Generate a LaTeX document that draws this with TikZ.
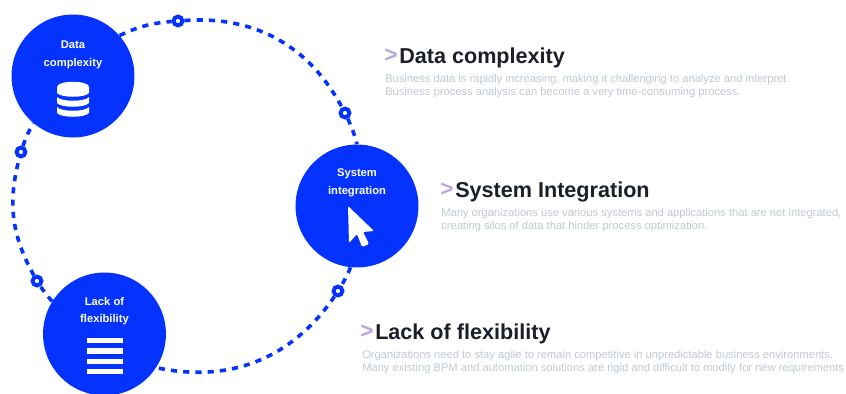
\documentclass[tikz,border=0pt]{standalone}
\usepackage{fontspec}
\usepackage{xcolor}
\setmainfont{Liberation Sans}
\definecolor{hubblue}{HTML}{0433FF}
\definecolor{headink}{HTML}{1B1F2B}
\definecolor{bodygrey}{HTML}{BFC8D7}
\definecolor{chevron}{HTML}{B9A6E0}
\tikzset{
  hub/.style={circle,fill=hubblue,minimum size=92.2pt,inner sep=0pt},
  stop/.style={circle,draw=hubblue,fill=white,line width=3pt,minimum size=6.6pt,inner sep=0pt},
  ring/.style={draw=hubblue,line width=2.7pt,dash pattern=on 4.6pt off 4.6pt},
  hubtext/.style={text=white,font=\fontsize{8.4pt}{13.1pt}\selectfont\bfseries,align=center},
  head/.style={anchor=west,inner sep=0pt,text=headink,font=\fontsize{16.2pt}{18pt}\selectfont\bfseries},
  body/.style={anchor=north west,inner sep=0pt,text=bodygrey,align=left,font=\fontsize{8.37pt}{9.6pt}\selectfont},
  chev/.style={anchor=west,inner sep=0pt,text=chevron,font=\fontsize{17pt}{18pt}\selectfont\bfseries}
}
\begin{document}
\begin{tikzpicture}[x=0.75pt,y=-0.75pt]
  \useasboundingbox (0,0) rectangle (846,393);

  \node[hub] (data) at (73,76) {};
  \node[hub] (system) at (357,206) {};
  \node[hub] (lack) at (104.5,334) {};

  \node[stop] (s1) at (178,21) {};
  \node[stop] (s2) at (345,113) {};
  \node[stop] (s3) at (338,291) {};
  \node[stop] (s4) at (37,281) {};
  \node[stop] (s5) at (21,152) {};

  \draw[ring] (data.41) to[bend left=10] (s1);
  \draw[ring] (s1) to[bend left=33] (s2);
  \draw[ring] (s2) to[bend left=5] (system.90);
  \draw[ring] (system.-96) to[bend left=4] (s3);
  \draw[ring] (s3) to[bend left=34] (lack.-33);
  \draw[ring] (lack.148) to[bend left=4] (s4);
  \draw[ring] (s4) to[bend left=22] (s5);
  \draw[ring] (s5) to[bend left=5] (data.-130);

  \node[hubtext] (datatext) at (73,55) {Data\\complexity};
  \node[hubtext] (systemtext) at (357,183) {System\\integration};
  \node[hubtext] (lacktext) at (104.5,311) {Lack of\\flexibility};

  % database icon
  \fill[white] (57,87) .. controls (57,80) and (89,80) .. (89,87)
    -- (89,93) .. controls (85,98) and (61,98) .. (57,93) -- cycle;
  \fill[white] (57,97) .. controls (61,102) and (85,102) .. (89,97)
    -- (89,103) .. controls (85,108) and (61,108) .. (57,103) -- cycle;
  \fill[white] (57,107) .. controls (61,112) and (85,112) .. (89,107)
    -- (89,113) .. controls (85,118) and (61,118) .. (57,113) -- cycle;

  % cursor icon
  \fill[white,rounded corners=1pt] (348,206) -- (374,231) -- (363,232) -- (369,244)
    -- (362,247) -- (357,234) -- (349,243) -- cycle;

  % list icon
  \foreach \y in {340.5,351,361.5,371.5} {
    \fill[white] (86.5,\y-2.6) rectangle (123,\y+2.6);
  }

  \node[chev] (m1) at (384,56) {>};
  \node[head] (t1) at (399,58) {Data complexity};
  \node[body] (b1) at (385,74) {Business data is rapidly increasing, making it challenging to analyze and interpret.\\Business process analysis can become a very time-consuming process.};

  \node[chev] (m2) at (440,190) {>};
  \node[head] (t2) at (455,192) {System Integration};
  \node[body] (b2) at (441,208) {Many organizations use various systems and applications that are not integrated,\\creating silos of data that hinder process optimization.};

  \node[chev] (m3) at (360,332) {>};
  \node[head] (t3) at (375,334) {Lack of flexibility};
  \node[body] (b3) at (362,350) {Organizations need to stay agile to remain competitive in unpredictable business environments.\\Many existing BPM and automation solutions are rigid and difficult to modify for new requirements};
\end{tikzpicture}
\end{document}
